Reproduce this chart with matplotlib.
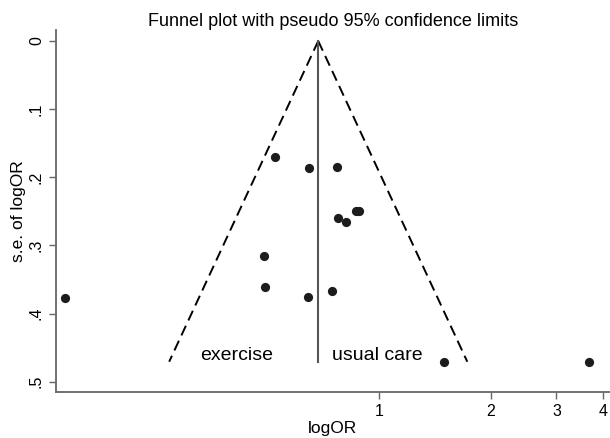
import numpy as np
import matplotlib
matplotlib.use("Agg")
import matplotlib.pyplot as plt

plt.rcParams['font.family'] = ['Liberation Sans', 'DejaVu Sans']

# study estimates (odds ratio, standard error of log OR)
odds_ratio = [0.525, 0.650, 0.773, 0.777, 0.817, 0.866, 0.884,
              0.491, 0.494, 0.643, 0.746, 0.143, 1.495, 3.68]
se_logor = [0.1705, 0.186, 0.185, 0.2595, 0.265, 0.249, 0.249,
            0.316, 0.361, 0.375, 0.3666, 0.377, 0.4707, 0.4707]

pooled_or = 0.687
se_max = 0.4707

x_ticks = [1, 2, 3, 4]
y_ticks = [0, 0.1, 0.2, 0.3, 0.4, 0.5]
y_ticklabels = ['0', '.1', '.2', '.3', '.4', '.5']

fig = plt.figure(figsize=(6.1, 4.38), dpi=100)
ax = fig.add_axes([0.0913, 0.1057, 0.9087, 0.8258])

# pseudo 95% limits
se_line = np.array([0, se_max])
lo = np.exp(np.log(pooled_or) - 1.96 * se_line)
hi = np.exp(np.log(pooled_or) + 1.96 * se_line)
ax.plot(lo, se_line, color='black', lw=1.4, ls=(0, (5.5, 3)))
ax.plot(hi, se_line, color='black', lw=1.4, ls=(0, (5.5, 3)))
ax.plot([pooled_or, pooled_or], se_line, color='#555555', lw=1.5)

ax.scatter(odds_ratio, se_logor, s=44, color='#1c1c1c', zorder=3, linewidths=0)

ax.text(0.415, 0.462, 'exercise', ha='center', va='center', fontsize=14)
ax.text(0.988, 0.462, 'usual care', ha='center', va='center', fontsize=14)

ax.set_xscale('log')
ax.set_xlim(0.1353, 4.18)
ax.set_ylim(0.5147, -0.0161)
ax.set_xticks(x_ticks)
ax.set_xticklabels([str(t) for t in x_ticks])
ax.xaxis.set_minor_locator(matplotlib.ticker.NullLocator())
ax.set_yticks(y_ticks)
ax.set_yticklabels(y_ticklabels, rotation=90, va='center')

for s in ['top', 'right']:
    ax.spines[s].set_visible(False)
for s in ['left', 'bottom']:
    ax.spines[s].set_color('#666666')
    ax.spines[s].set_linewidth(1.3)
ax.tick_params(colors='#666666', labelcolor='black', labelsize=11.5, length=5, width=1)

ax.set_xlabel('logOR', fontsize=12.5, labelpad=2)
ax.set_ylabel('s.e. of logOR', fontsize=12.5, labelpad=2)
ax.set_title('Funnel plot with pseudo 95% confidence limits', fontsize=13, pad=3)

fig.savefig('out.png', dpi=100)
